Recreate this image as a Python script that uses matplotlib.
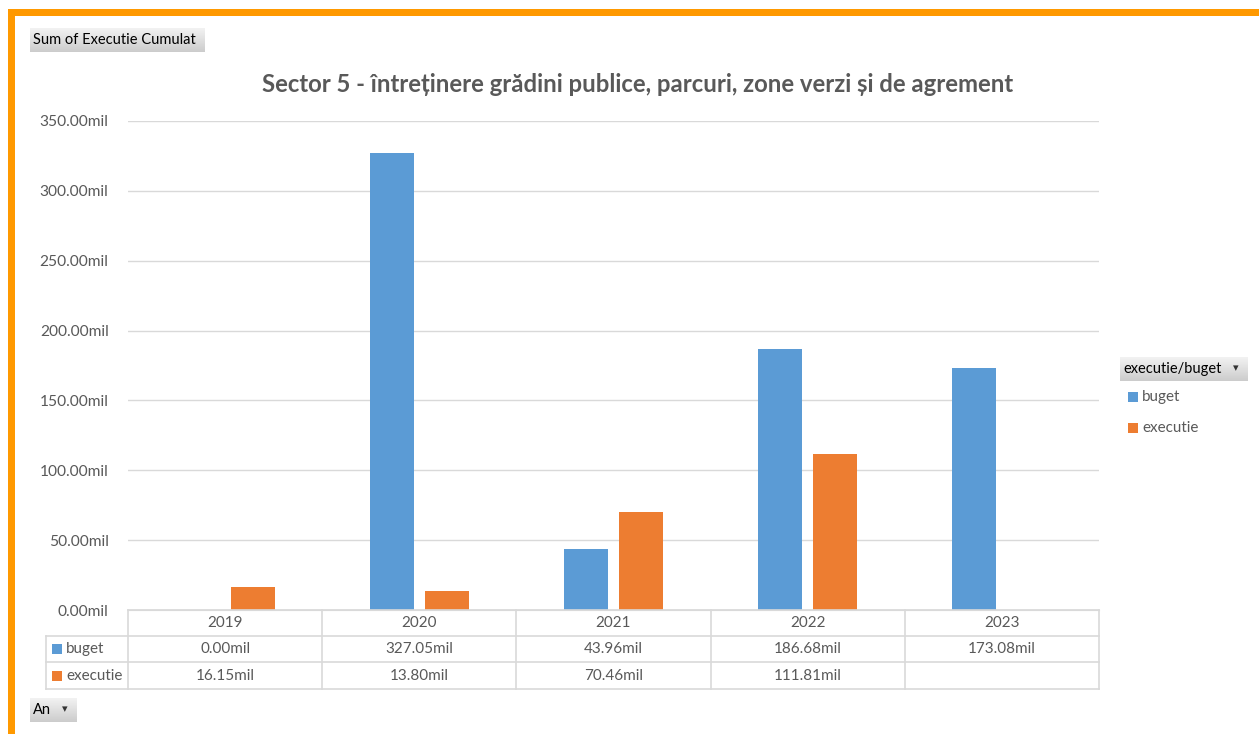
import matplotlib
matplotlib.use("Agg")
import matplotlib.pyplot as plt
from matplotlib.patches import Rectangle
from matplotlib.transforms import blended_transform_factory
import numpy as np

years = ["2019", "2020", "2021", "2022", "2023"]
buget = [0.00, 327.05, 43.96, 186.68, 173.08]
executie = [16.15, 13.80, 70.46, 111.81, None]
series_names = ["buget", "executie"]
colors = ["#5B9BD5", "#ED7D31"]
yticks = [0, 50, 100, 150, 200, 250, 300, 350]
title = "Sector 5 - întreținere grădini publice, parcuri, zone verzi și de agrement"

W, H = 1259, 734
plt.rcParams['font.family'] = ['Lato', 'DejaVu Sans']
fig = plt.figure(figsize=(W / 100, H / 100), dpi=100)
fig.patch.set_facecolor("white")

def fx(px):
    return px / W

def fy(py):
    return 1 - py / H

# orange border (top and left)
fig.add_artist(Rectangle((fx(8), fy(16)), fx(1259 - 8), 7 / H, transform=fig.transFigure,
                         color="#FF9900", lw=0, zorder=0))
fig.add_artist(Rectangle((fx(8), 0), fx(7), fy(9), transform=fig.transFigure,
                         color="#FF9900", lw=0, zorder=0))

# main axes
L, R, T, B = 128, 1099, 121, 610
ax = fig.add_axes([fx(L), fy(B), fx(R - L), (B - T) / H])
x = np.arange(len(years))
w = 0.225
off = 0.142
bvals = [np.nan if v is None else v for v in buget]
evals = [np.nan if v is None else v for v in executie]
ax.bar(x - off, bvals, w, color=colors[0], zorder=3)
ax.bar(x + off, evals, w, color=colors[1], zorder=3)
ax.set_xlim(-0.5, len(years) - 0.5)
ax.set_ylim(0, 350)
ax.set_yticks(yticks)
ax.set_yticklabels([f"{v:.2f}mil" for v in yticks], color="#595959", fontsize=11.2)
ax.yaxis.grid(True, color="#D9D9D9", lw=1)
ax.set_axisbelow(True)
ax.tick_params(axis="y", length=0, pad=14)
ax.set_xticks([])
for s in ["top", "right", "left"]:
    ax.spines[s].set_visible(False)
ax.spines["bottom"].set_color("#D9D9D9")

# title
fig.text(fx(638), fy(84), title, ha="center", va="center", fontsize=17.2,
         fontweight="bold", color="#595959")

# data table under axes
grid_c = "#D9D9D9"
tr = blended_transform_factory(ax.transData, fig.transFigure)
rows_y = [610, 636, 662, 689]
label_left = 46
lw = 1.2
fig.add_artist(plt.Line2D([fx(L), fx(R)], [fy(610), fy(610)], color=grid_c, lw=lw))
for yy in rows_y[1:]:
    fig.add_artist(plt.Line2D([fx(label_left), fx(R)], [fy(yy), fy(yy)], color=grid_c, lw=lw))
fig.add_artist(plt.Line2D([fx(label_left)] * 2, [fy(636), fy(689)], color=grid_c, lw=lw))
for i in range(len(years) + 1):
    xb = i - 0.5
    fig.add_artist(plt.Line2D([xb, xb], [fy(610), fy(689)], color=grid_c, lw=lw,
                              transform=tr, clip_on=False))
for i, yr in enumerate(years):
    fig.text(i, fy(623), yr, transform=tr, ha="center", va="center", fontsize=11, color="#595959")
for r, (name, vals) in enumerate(zip(series_names, [buget, executie])):
    yc = fy((rows_y[r + 1] + rows_y[r + 2]) / 2)
    fig.add_artist(Rectangle((fx(52), yc - 5 / H), 10 / W, 10 / H, transform=fig.transFigure,
                             color=colors[r], lw=0))
    fig.text(fx(66), yc, name, ha="left", va="center", fontsize=11, color="#595959")
    for i, v in enumerate(vals):
        if v is not None:
            fig.text(i, yc, f"{v:.2f}mil", transform=tr, ha="center", va="center",
                     fontsize=11, color="#595959")

# grey buttons
def button(x0, y0, x1, y1, text, arrow=False):
    grad = np.linspace(0.95, 0.80, 50).reshape(-1, 1)
    bax = fig.add_axes([fx(x0), fy(y1), fx(x1 - x0), (y1 - y0) / H])
    bax.imshow(np.dstack([grad, grad, grad]), aspect="auto", extent=[0, 1, 0, 1])
    bax.set_axis_off()
    fig.text(fx(x0 + 3), fy((y0 + y1) / 2), text, ha="left", va="center", fontsize=10.5,
             color="#000000")
    if arrow:
        fig.text(fx(x1 - 12), fy((y0 + y1) / 2 - 1), "▾", ha="center", va="center",
                 fontsize=8, color="#333333", family="DejaVu Sans")

button(30, 28, 205, 52, "Sum of Executie Cumulat")
button(30, 698, 77, 722, "An", arrow=True)
button(1120, 357, 1248, 381, "executie/buget", arrow=True)

# legend
for r, name in enumerate(series_names):
    yc = fy(397 + r * 31)
    fig.add_artist(Rectangle((fx(1128), yc - 5 / H), 10 / W, 10 / H, transform=fig.transFigure,
                             color=colors[r], lw=0))
    fig.text(fx(1142), yc, name, ha="left", va="center", fontsize=11, color="#595959")

fig.savefig("out.png", dpi=100)
